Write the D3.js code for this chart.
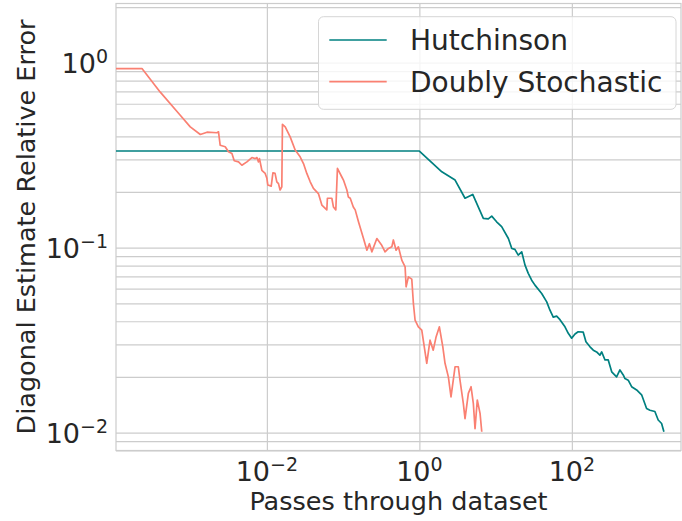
<!DOCTYPE html>
<html><head><meta charset="utf-8">
<script src="https://cdn.jsdelivr.net/npm/d3@7"></script>
<style>
body{margin:0;background:#fff;}
text{font-family:"DejaVu Sans",sans-serif;fill:#262626;}
</style>
</head><body>
<svg id="chart" width="682" height="521"></svg>
<script>
// ---- data ----
const seriesNames = ["Hutchinson", "Doubly Stochastic"];
const seriesColors = ["#008080", "#FA8072"];

const hutchX = [1.05e-4, 1.0, 1.97, 2.94, 3.97, 5.01, 6.90, 8.02, 8.89, 10.3,
  12.0, 14.7, 16.3, 17.9, 19.8, 22.0, 24.3, 26.8, 29.7, 32.8,
  40.2, 46.8, 51.6, 57.0, 63.2, 69.8, 81.2, 89.7, 99.4, 110,
  121, 141, 153, 173, 191, 211, 233, 246, 272, 300,
  333, 386, 427, 472, 497, 548, 608, 707, 822, 955,
  1057, 1227, 1356, 1503, 1611];
const hutchY = [0.333, 0.333, 0.257, 0.232, 0.185, 0.194, 0.144, 0.143, 0.148, 0.138,
  0.130, 0.112, 0.0990, 0.0978, 0.0911, 0.0949, 0.0804, 0.0726, 0.0667, 0.0627,
  0.0565, 0.0509, 0.0459, 0.0421, 0.0426, 0.0408, 0.0373, 0.0344, 0.0324, 0.0341,
  0.0351, 0.0349, 0.0310, 0.0291, 0.0279, 0.0273, 0.0262, 0.0273, 0.0247, 0.0247,
  0.0213, 0.0200, 0.0218, 0.0205, 0.0196, 0.0192, 0.0177, 0.0170, 0.0160, 0.0135,
  0.0132, 0.0130, 0.0117, 0.0112, 0.0101];

const dsX = [1.05e-4, 2.30e-4, 4.00e-4, 7.31e-4, 9.89e-4, 1.34e-3, 1.64e-3, 2.21e-3, 2.32e-3, 2.44e-3,
  2.84e-3, 3.14e-3, 3.48e-3, 3.73e-3, 4.25e-3, 4.70e-3, 5.47e-3, 6.36e-3, 7.03e-3, 7.40e-3,
  7.76e-3, 8.00e-3, 8.59e-3, 9.50e-3, 0.0100, 0.0103, 0.0114, 0.0120, 0.0128, 0.0135,
  0.0142, 0.0149, 0.0157, 0.0160, 0.0174, 0.0202, 0.0235, 0.0273, 0.0302, 0.0334,
  0.0370, 0.0408, 0.0474, 0.0526, 0.0611, 0.0622, 0.0711, 0.0746, 0.0802, 0.0842,
  0.0962, 0.101, 0.112, 0.117, 0.124, 0.136, 0.144, 0.159, 0.185, 0.205,
  0.221, 0.238, 0.277, 0.321, 0.355, 0.393, 0.435, 0.456, 0.495, 0.531,
  0.588, 0.650, 0.670, 0.718, 0.795, 0.835, 0.878, 0.970, 1.075, 1.25,
  1.38, 1.52, 1.66, 1.83, 2.03, 2.17, 2.40, 2.60, 2.94, 3.24,
  3.41, 3.77, 3.97, 4.39, 4.76, 5.10, 5.37, 5.75, 6.25, 6.58];
const dsY = [0.930, 0.930, 0.693, 0.520, 0.450, 0.409, 0.421, 0.418, 0.423, 0.358,
  0.351, 0.330, 0.323, 0.295, 0.291, 0.279, 0.291, 0.307, 0.303, 0.307,
  0.291, 0.303, 0.262, 0.252, 0.237, 0.218, 0.215, 0.254, 0.252, 0.227,
  0.222, 0.205, 0.213, 0.464, 0.450, 0.397, 0.337, 0.310, 0.285, 0.252,
  0.227, 0.209, 0.196, 0.170, 0.160, 0.185, 0.185, 0.166, 0.160, 0.268,
  0.241, 0.232, 0.205, 0.188, 0.185, 0.166, 0.160, 0.138, 0.112, 0.0969,
  0.105, 0.0949, 0.112, 0.103, 0.0949, 0.0990, 0.101, 0.110, 0.0969, 0.101,
  0.0856, 0.0787, 0.0614, 0.0695, 0.0676, 0.0499, 0.0406, 0.0373, 0.0358, 0.0237,
  0.0316, 0.0279, 0.0330, 0.0373, 0.0291, 0.0237, 0.0200, 0.0156, 0.0227, 0.0227,
  0.0192, 0.0144, 0.0119, 0.0163, 0.0177, 0.0144, 0.0105, 0.0150, 0.0127, 0.0101];

const xTickValues = [1e-2, 1, 1e2];
const xTickBase = ["10", "10", "10"];
const xTickExp = ["−2", "0", "2"];
const yTickValues = [1e-2, 1e-1, 1];
const yTickBase = ["10", "10", "10"];
const yTickExp = ["−2", "−1", "0"];
const yMinorValues = [0.008, 0.009, 0.02, 0.03, 0.04, 0.05, 0.06, 0.07, 0.08, 0.09,
  0.2, 0.3, 0.4, 0.5, 0.6, 0.7, 0.8, 0.9, 2];
const xDomain = [1.05e-4, 2700];
const yDomain = [0.008, 2.09];
const xLabel = "Passes through dataset";
const yLabel = "Diagonal Estimate Relative Error";

// ---- layout ----
const W = 682, H = 521;
const margin = {left: 116, top: 3.5, right: 1, bottom: 70.5};
const width = W - margin.left - margin.right;
const height = H - margin.top - margin.bottom;
const gridColor = "#cccccc";

const svg = d3.select("#chart");
svg.append("rect").attr("width", W).attr("height", H).attr("fill", "#fff");
const g = svg.append("g").attr("transform", `translate(${margin.left},${margin.top})`);

const x = d3.scaleLog().domain(xDomain).range([0, width]);
const y = d3.scaleLog().domain(yDomain).range([height, 0]);

// y grid (major + minor) and labels
const yAxis = d3.axisLeft(y)
  .tickValues(yMinorValues.concat(yTickValues))
  .tickSize(-width).tickSizeOuter(0).tickFormat(() => "");
const yg = g.append("g").call(yAxis);
yg.select(".domain").remove();
yg.selectAll(".tick line").attr("stroke", gridColor).attr("stroke-width", 1.2);
yg.selectAll(".tick text").remove();

yTickValues.forEach((v, i) => {
  const t = g.append("text")
    .attr("x", -8).attr("y", y(v) + 10)
    .attr("text-anchor", "end")
    .style("font-size", "27px");
  t.append("tspan").text(yTickBase[i]);
  t.append("tspan").attr("dy", -10).style("font-size", "19px").text(yTickExp[i]);
});

// x grid and labels
const xAxis = d3.axisBottom(x)
  .tickValues(xTickValues)
  .tickSize(-height).tickSizeOuter(0).tickFormat(() => "");
const xg = g.append("g").attr("transform", `translate(0,${height})`).call(xAxis);
xg.select(".domain").remove();
xg.selectAll(".tick line").attr("stroke", gridColor).attr("stroke-width", 1.2);
xg.selectAll(".tick text").remove();

xTickValues.forEach((v, i) => {
  const t = g.append("text")
    .attr("x", x(v)).attr("y", height + 30.5)
    .attr("text-anchor", "middle")
    .style("font-size", "27px");
  t.append("tspan").text(xTickBase[i]);
  t.append("tspan").attr("dy", -10).style("font-size", "19px").text(xTickExp[i]);
});

// frame
g.append("rect").attr("x", 0).attr("y", 0).attr("width", width).attr("height", height)
  .attr("fill", "none").attr("stroke", gridColor).attr("stroke-width", 1.2);

// clip
svg.append("defs").append("clipPath").attr("id", "clip")
  .append("rect").attr("width", width).attr("height", height);

const line = d3.line().x(d => x(d[0])).y(d => y(d[1]));
const seriesData = [
  hutchX.map((v, i) => [v, hutchY[i]]),
  dsX.map((v, i) => [v, dsY[i]])
];
const plot = g.append("g").attr("clip-path", "url(#clip)");
seriesData.forEach((d, i) => {
  plot.append("path").datum(d)
    .attr("fill", "none")
    .attr("stroke", seriesColors[i])
    .attr("stroke-width", 1.7)
    .attr("stroke-linejoin", "round")
    .attr("d", line);
});

// axis labels
svg.append("text")
  .attr("x", margin.left + width / 2).attr("y", 510)
  .attr("text-anchor", "middle")
  .style("font-size", "25.5px")
  .text(xLabel);
svg.append("text")
  .attr("transform", `translate(34.5,${margin.top + height / 2}) rotate(-90)`)
  .attr("text-anchor", "middle")
  .style("font-size", "25.5px")
  .text(yLabel);

// legend
const lg = svg.append("g");
lg.append("rect")
  .attr("x", 318.5).attr("y", 16.7).attr("width", 357.5).attr("height", 92.6)
  .attr("rx", 5).attr("ry", 5)
  .attr("fill", "#fff").attr("fill-opacity", 0.8)
  .attr("stroke", "#d6d6d6").attr("stroke-width", 1);
const legendRowY = [40, 81.7];
seriesNames.forEach((name, i) => {
  lg.append("line")
    .attr("x1", 329.3).attr("x2", 386.7)
    .attr("y1", legendRowY[i]).attr("y2", legendRowY[i])
    .attr("stroke", seriesColors[i]).attr("stroke-width", 1.7);
  lg.append("text")
    .attr("x", 410).attr("y", legendRowY[i] + 10.2)
    .style("font-size", "28px")
    .text(name);
});
</script>
</body></html>
